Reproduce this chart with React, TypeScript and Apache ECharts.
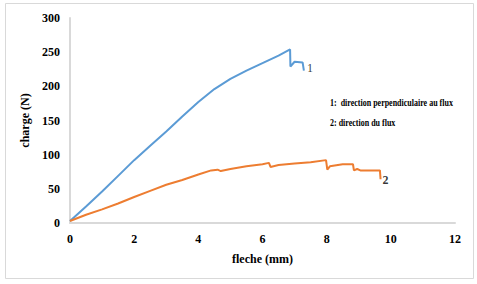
import React, { useEffect, useRef } from "react";
import * as echarts from "echarts";

const series1X = [0, 0.5, 1, 1.5, 2, 2.5, 3, 3.5, 4, 4.5, 5, 5.5, 6, 6.5, 6.86, 6.87, 7.0, 7.25, 7.29];
const series1Y = [3, 24, 46, 69, 92, 113, 134, 156, 177, 196, 211, 223, 234, 245, 254, 229, 236, 235, 223];

const series2X = [0, 0.5, 1, 1.5, 2, 2.5, 3, 3.5, 4, 4.4, 4.6, 4.7, 5, 5.5, 6, 6.2, 6.25, 6.5, 7, 7.5, 7.98, 8.02, 8.1, 8.5, 8.82, 8.85, 8.95, 9.05, 9.66, 9.68];
const series2Y = [3, 12, 20, 28.5, 38, 47, 56, 63, 71, 77, 78, 76, 79, 83, 86, 88, 82, 85, 87, 89, 92, 78, 83, 86, 86, 77, 79, 77, 77, 64];

const xTicks = [0, 2, 4, 6, 8, 10, 12];
const yTicks = [0, 50, 100, 150, 200, 250, 300];

const legendLines = ["1:  direction perpendiculaire au flux", "2: direction du flux"];
const seriesLabels = ["1", "2"];
const xTitle = "fleche (mm)";
const yTitle = "charge (N)";

const FONT = "Liberation Serif";

export default function App() {
  const ref = useRef<HTMLDivElement>(null);
  useEffect(() => {
    if (!ref.current) return;
    const chart = echarts.init(ref.current, undefined, { renderer: "svg" });
    const d1 = series1X.map((x, i) => [x, series1Y[i]]);
    const d2 = series2X.map((x, i) => [x, series2Y[i]]);
    const last1 = d1[d1.length - 1];
    const last2 = d2[d2.length - 1];
    const axisLabel = { fontFamily: FONT, fontWeight: "bold", fontSize: 12, color: "#000" };
    chart.setOption({
      animation: false,
      backgroundColor: "#fff",
      grid: { left: 70, right: 22, top: 18, bottom: 61 },
      xAxis: {
        type: "value",
        min: xTicks[0],
        max: xTicks[xTicks.length - 1],
        interval: 2,
        splitLine: { show: false },
        axisTick: { show: false },
        axisLine: { lineStyle: { color: "#d9d9d9", width: 2 } },
        axisLabel: { ...axisLabel, margin: 10 },
        name: xTitle,
        nameLocation: "middle",
        nameGap: 30,
        nameTextStyle: { fontFamily: FONT, fontWeight: "bold", fontSize: 12, color: "#000" },
      },
      yAxis: {
        type: "value",
        min: yTicks[0],
        max: yTicks[yTicks.length - 1],
        interval: 50,
        splitLine: { show: false },
        axisTick: { show: false },
        axisLine: { show: true, lineStyle: { color: "#d9d9d9", width: 2 } },
        axisLabel: { ...axisLabel, margin: 10 },
        name: yTitle,
        nameLocation: "middle",
        nameGap: 28,
        nameTextStyle: { fontFamily: FONT, fontWeight: "bold", fontSize: 12, color: "#000" },
      },
      series: [
        {
          type: "line",
          data: d1,
          showSymbol: false,
          lineStyle: { color: "#5b9bd5", width: 2 },
          itemStyle: { color: "#5b9bd5" },
        },
        {
          type: "line",
          data: d2,
          showSymbol: false,
          lineStyle: { color: "#ed7d31", width: 2 },
          itemStyle: { color: "#ed7d31" },
        },
        {
          type: "scatter",
          symbolSize: 0,
          silent: true,
          data: [
            {
              value: last1,
              label: {
                show: true,
                formatter: seriesLabels[0],
                position: "right",
                distance: 3,
                offset: [0, -3],
                fontFamily: FONT,
                fontSize: 12,
                color: "#000000",
              },
            },
            {
              value: last2,
              label: {
                show: true,
                formatter: seriesLabels[1],
                position: "right",
                distance: 2,
                offset: [0, 1],
                fontFamily: FONT,
                fontWeight: "bold",
                fontSize: 12,
                color: "#000000",
              },
            },
          ],
        },
      ],
      graphic: [
        {
          type: "rect",
          shape: { x: 5.5, y: 3.5, width: 468, height: 275 },
          style: { fill: "none", stroke: "#d9d9d9", lineWidth: 1 },
          silent: true,
        },
        {
          type: "text",
          x: 330,
          y: 103,
          scaleX: 0.8,
          style: {
            text: legendLines[0],
            fontFamily: FONT,
            fontWeight: "bold",
            fontSize: 10,
            fill: "#000",
            textVerticalAlign: "middle",
          },
        },
        {
          type: "text",
          x: 330,
          y: 123,
          scaleX: 0.8,
          style: {
            text: legendLines[1],
            fontFamily: FONT,
            fontWeight: "bold",
            fontSize: 10,
            fill: "#000",
            textVerticalAlign: "middle",
          },
        },
      ],
    });
    return () => chart.dispose();
  }, []);
  return <div ref={ref} style={{ width: 477, height: 284, position: "absolute", left: 0, top: 0 }} />;
}
